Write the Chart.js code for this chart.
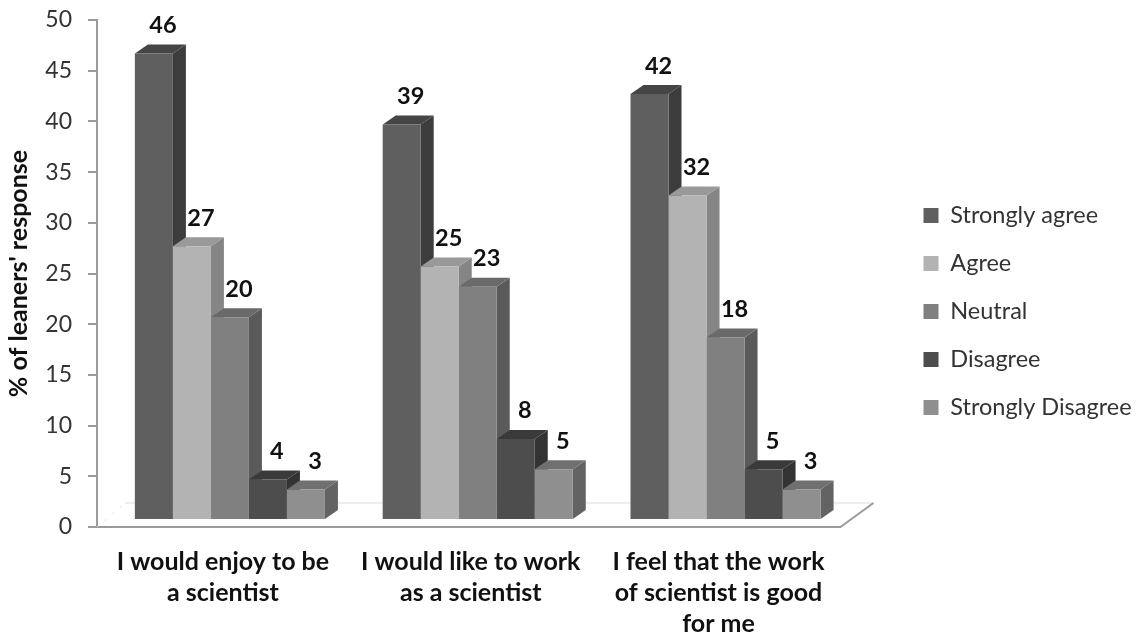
<!DOCTYPE html>
<html>
<head>
<meta charset="utf-8">
<style>
  html, body { margin: 0; padding: 0; background: #fff; }
  canvas { display: block; }
</style>
<script src="https://cdn.jsdelivr.net/npm/chart.js@4"></script>
</head>
<body>
<canvas id="chart1" width="1140" height="635"></canvas>
<script>
const categories = [
  ['I would enjoy to be', 'a scientist'],
  ['I would like to work', 'as a scientist'],
  ['I feel that the work', 'of scientist is good', 'for me']
]
const seriesNames = ['Strongly agree', 'Agree', 'Neutral', 'Disagree', 'Strongly Disagree']
const stronglyAgree = [46, 39, 42]
const agree = [27, 25, 32]
const neutral = [20, 23, 18]
const disagree = [4, 8, 5]
const stronglyDisagree = [3, 5, 3]

const fronts = ['#5f5f5f', '#b3b3b3', '#808080', '#4d4d4d', '#8f8f8f']
const sides = ['#3c3c3c', '#858585', '#5a5a5a', '#333333', '#636363']
const tops = ['#454545', '#999999', '#6a6a6a', '#3a3a3a', '#707070']

const font = 'Lato, sans-serif'
const shift = { x: 9, y: -7 }      // front plane of the bars vs the axes
const depth = { x: 13, y: -9 }     // how far the bars go back

const bars3d = {
  id: 'bars3d',
  afterLayout(chart) {
    const legend = chart.legend
    const w = legend.width
    legend.left = 899
    legend.right = 899 + w
    legend.top -= 16
    legend.bottom -= 16
  },
  beforeDatasetsDraw(chart) {
    const { ctx, chartArea: area } = chart
    // floor
    ctx.save()
    ctx.strokeStyle = '#dcdcdc'
    ctx.lineWidth = 1
    ctx.beginPath()
    ctx.moveTo(125, area.bottom - 24)
    ctx.lineTo(area.right + 33, area.bottom - 24)
    ctx.stroke()
    ctx.setLineDash([2, 8])
    ctx.beginPath()
    ctx.moveTo(area.left, area.bottom)
    ctx.lineTo(125, area.bottom - 24)
    ctx.stroke()
    ctx.setLineDash([])
    ctx.strokeStyle = '#9a9a9a'
    ctx.lineWidth = 2
    ctx.beginPath()
    ctx.moveTo(area.right, area.bottom)
    ctx.lineTo(area.right + 33, area.bottom - 24)
    ctx.stroke()
    ctx.restore()

    ctx.save()
    ctx.translate(shift.x, shift.y)
    chart.data.datasets.forEach((ds, d) => {
      chart.getDatasetMeta(d).data.forEach(bar => {
        const l = bar.x - bar.width / 2
        const r = bar.x + bar.width / 2
        ctx.fillStyle = sides[d]
        ctx.beginPath()
        ctx.moveTo(r, bar.y)
        ctx.lineTo(r + depth.x, bar.y + depth.y)
        ctx.lineTo(r + depth.x, bar.base + depth.y)
        ctx.lineTo(r, bar.base)
        ctx.closePath()
        ctx.fill()
        ctx.fillStyle = tops[d]
        ctx.beginPath()
        ctx.moveTo(l, bar.y)
        ctx.lineTo(l + depth.x, bar.y + depth.y)
        ctx.lineTo(r + depth.x, bar.y + depth.y)
        ctx.lineTo(r, bar.y)
        ctx.closePath()
        ctx.fill()
      })
    })
  },
  afterDatasetsDraw(chart) {
    const { ctx } = chart
    ctx.restore()
    ctx.save()
    ctx.font = 'bold 23.5px ' + font
    ctx.fillStyle = '#111'
    ctx.textAlign = 'center'
    ctx.textBaseline = 'middle'
    chart.data.datasets.forEach((ds, d) => {
      chart.getDatasetMeta(d).data.forEach((bar, i) => {
        ctx.fillText(ds.data[i], bar.x + shift.x + 9, bar.y + shift.y - 28)
      })
    })
    ctx.restore()
  }
}

const data = {
  labels: categories,
  datasets: [stronglyAgree, agree, neutral, disagree, stronglyDisagree].map((values, i) => ({
    label: seriesNames[i],
    data: values,
    backgroundColor: fronts[i],
    clip: false
  }))
}

const options = {
  responsive: false,
  animation: false,
  layout: { padding: { top: 20, right: 57 } },
  datasets: { bar: { barPercentage: 1, categoryPercentage: 0.767 } },
  plugins: {
    tooltip: { enabled: false },
    legend: {
      position: 'right',
      labels: {
        boxWidth: 15,
        boxHeight: 15,
        padding: 24.5,
        color: '#333',
        font: { family: font, size: 23.5 }
      }
    }
  },
  scales: {
    x: {
      afterFit: scale => { scale.height = 108 },
      border: { color: '#9a9a9a', width: 2 },
      grid: { display: false },
      ticks: {
        color: '#111',
        padding: 11,
        labelOffset: 2,
        maxRotation: 0,
        autoSkip: false,
        font: { family: font, size: 25, weight: 'bold', lineHeight: 1.24 }
      }
    },
    y: {
      min: 0,
      max: 50,
      afterFit: scale => {
        scale.width = 97
        scale.paddingTop = 0
        scale.paddingBottom = 0
      },
      border: { color: '#9a9a9a', width: 2 },
      grid: { drawOnChartArea: false, tickLength: 9, color: '#9a9a9a', lineWidth: 2 },
      ticks: {
        stepSize: 5,
        color: '#333',
        padding: 16,
        font: { family: font, size: 23 }
      },
      title: {
        display: true,
        text: "% of leaners' response",
        color: '#111',
        padding: { top: 4, bottom: 0 },
        font: { family: font, size: 25, weight: 'bold' }
      }
    }
  }
}

new Chart('chart1', { type: 'bar', data, options, plugins: [bars3d] })
</script>
</body>
</html>
